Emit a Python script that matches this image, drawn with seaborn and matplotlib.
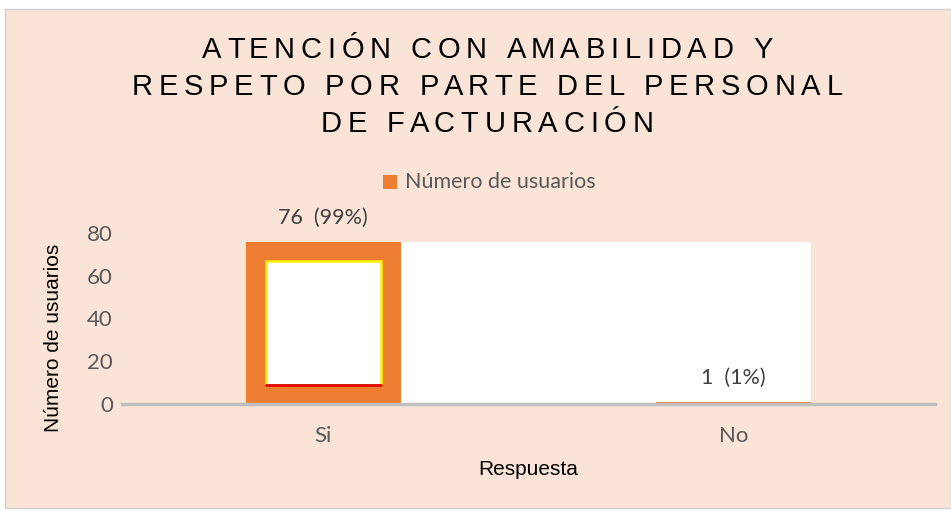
import matplotlib
matplotlib.use("Agg")
import matplotlib.pyplot as plt
from matplotlib.patches import Rectangle
import seaborn as sns
import pandas as pd

categories = ["Si", "No"]
values = [76, 1]
labels = ["76  (99%)", "1  (1%)"]
title_lines = ["ATENCIÓN CON AMABILIDAD Y", "RESPETO POR PARTE DEL PERSONAL", "DE FACTURACIÓN"]
series_name = "Número de usuarios"
yticks = [0, 20, 40, 60, 80]

sns.set_theme(style="white")
plt.rcParams["font.family"] = ["Liberation Sans", "DejaVu Sans"]

W, H = 951, 511
fig = plt.figure(figsize=(W / 100, H / 100), dpi=100)
fig.patch.set_facecolor("white")
peach = "#FAE4D7"
orange = "#ED7D31"
gray_txt = "#595959"
calib = ["Lato", "DejaVu Sans"]
fig.patches.append(Rectangle((5 / W, 3 / H), (W - 5) / W, (H - 12) / H, transform=fig.transFigure,
                             facecolor=peach, edgecolor="#D0D0D0", lw=1, zorder=-10))

ax = fig.add_axes([122 / W, 1 - 404 / H, (935 - 122) / W, (404 - 233) / H])
ax.set_facecolor("none")

df = pd.DataFrame({"Respuesta": categories, series_name: values})
bw = 0.378
sns.barplot(data=df, x="Respuesta", y=series_name, color=orange, width=bw, ax=ax,
            saturation=1, edgecolor="none", zorder=3)

# white artifact region between bars
ymax = max(values)
ax.add_patch(Rectangle((0 + bw / 2, 0), 1.0, ymax, facecolor="white", edgecolor="none", zorder=1))

# inner white panel of Si bar
ax.add_patch(Rectangle((-bw / 2 + 0.049, 9), bw - 0.098, 58, facecolor="white",
                       edgecolor="#FFF200", lw=1.8, zorder=4))
ax.plot([-bw / 2 + 0.049, bw / 2 - 0.049], [9, 9], color="#E00000", lw=2, zorder=5)

ax.set_xlim(-0.49, 1.49)
ax.set_ylim(0, 80)
ax.set_yticks(yticks)
ax.tick_params(axis="y", length=0, labelsize=16, labelcolor=gray_txt, pad=6.5)
ax.tick_params(axis="x", length=0, labelsize=16, labelcolor=gray_txt, pad=16)
for t in ax.get_yticklabels() + ax.get_xticklabels():
    t.set_fontfamily(calib)
for s in ["top", "right", "left"]:
    ax.spines[s].set_visible(False)
ax.spines["bottom"].set_color("#BFBFBF")
ax.spines["bottom"].set_linewidth(2.5)
ax.spines["bottom"].set_zorder(6)

ax.set_xlabel("Respuesta", fontsize=15, color="black")
ax.set_ylabel(series_name, fontsize=15, color="black")
ax.yaxis.set_label_coords(-0.0726, 0.386)
ax.xaxis.set_label_coords(0.5, -0.325)

for i, (v, lab) in enumerate(zip(values, labels)):
    ax.text(i, v + 11.2, lab, ha="center", va="center", fontsize=15.5, color="#404040",
            family=calib, clip_on=False)

# title with letter tracking (each line laid out character by character)
renderer = fig.canvas.get_renderer()
tsize = 21


def text_w(s):
    t = fig.text(0, 0, s, fontsize=tsize)
    w = t.get_window_extent(renderer).width
    t.remove()
    return w


bar_w = text_w("|")
target_w = 711.0
base_w = text_w(title_lines[1])
track = (target_w - base_w) / (len(title_lines[1]) - 1)
baselines = [58, 95, 131.5]
cx = 487
for line, by in zip(title_lines, baselines):
    total = text_w(line) + track * (len(line) - 1)
    x0 = cx - total / 2
    for k, ch in enumerate(line):
        if ch == " ":
            continue
        xk = x0 + (text_w(line[:k] + "|") - bar_w if k else 0) + track * k
        fig.text(xk / W, 1 - by / H, ch, ha="left", va="baseline", fontsize=tsize, color="black")

# legend
fig.patches.append(Rectangle((383 / W, 1 - 189 / H), 14 / W, 14 / H, transform=fig.transFigure,
                             facecolor=orange, edgecolor="none"))
fig.text(405 / W, 1 - 182 / H, series_name, ha="left", va="center", fontsize=15.5, color=gray_txt,
         family=calib)

fig.savefig("out.png", dpi=100, facecolor=fig.get_facecolor())
